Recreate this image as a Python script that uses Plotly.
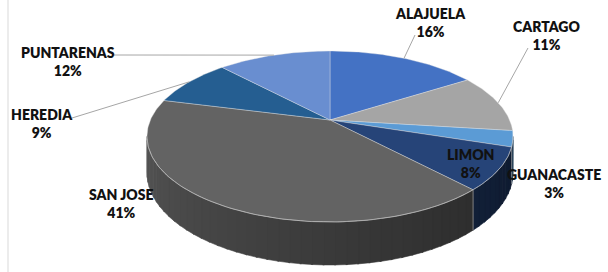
import numpy as np
import plotly.graph_objects as go

# ---------------- data ----------------
regions = ["ALAJUELA", "CARTAGO", "GUANACASTE", "LIMON", "SAN JOSE", "HEREDIA", "PUNTARENAS"]
shares = [16, 11, 3, 8, 41, 9, 12]

# ---------------- style / layout ----------------
colors = ["#4472C4", "#A5A5A5", "#5B9BD5", "#264478", "#636363", "#255E91", "#698ED0"]
label_xy = {"ALAJUELA": (430, 22), "CARTAGO": (546, 35), "GUANACASTE": (554, 183),
            "LIMON": (470, 163), "SAN JOSE": (121, 203), "HEREDIA": (42, 123),
            "PUNTARENAS": (68, 61)}
leader_from = {"ALAJUELA": (415, 35), "CARTAGO": (528, 48),
               "PUNTARENAS": (114, 55), "HEREDIA": (72, 118)}

W, H = 608, 272
CX, CY = 330, 120          # projected centre of the pie
A, B, K = 179.6, 82.3, 0.193  # ellipse radii and perspective factor
DEPTH = 34.7


def proj(theta_deg, drop=0.0):
    t = np.radians(theta_deg)
    u, v = np.sin(t), np.cos(t)
    w = 1 + K * v
    return CX + A * u / w, CY - B * v / w + drop / w


def shade(hexcol, f):
    h = hexcol.lstrip("#")
    r, g, b = (int(h[i:i + 2], 16) for i in (0, 2, 4))
    return "rgb(%d,%d,%d)" % (r * f, g * f, b * f)


total = float(sum(shares))
bounds = np.concatenate([[0], np.cumsum(shares)]) / total * 360.0

fig = go.Figure()

# visible front side: between silhouette angles
vis_lo = np.degrees(np.arccos(-K))
vis_hi = 360 - vis_lo

# ---- side faces ----
for i, name in enumerate(regions):
    a0, a1 = max(bounds[i], vis_lo), min(bounds[i + 1], vis_hi)
    if a1 <= a0:
        continue
    nseg = max(1, int(np.ceil((a1 - a0) / 3.0)))
    edges = np.linspace(a0, a1, nseg + 1)
    for s in range(nseg):
        s0, s1 = edges[s], edges[s + 1]
        th = np.linspace(s0, min(s1 + 0.4, a1), 6)
        xt, yt = proj(th)
        xb, yb = proj(th[::-1], DEPTH)
        mid = (s0 + s1) / 2
        tt = (mid - vis_lo) / (vis_hi - vis_lo)
        f = 0.40 + 0.47 * tt ** 1.3
        c = shade(colors[i], f)
        fig.add_trace(go.Scatter(x=np.concatenate([xt, xb, xt[:1]]),
                                 y=np.concatenate([yt, yb, yt[:1]]),
                                 mode="lines", fill="toself", fillcolor=c,
                                 line=dict(color=c, width=0.6),
                                 hoverinfo="skip", showlegend=False))

# slice boundary lines on side
for b in bounds[1:-1]:
    if vis_lo < b < vis_hi:
        x0, y0 = proj(b)
        x1, y1 = proj(b, DEPTH)
        fig.add_trace(go.Scatter(x=[x0, x1], y=[y0, y1], mode="lines",
                                 line=dict(color="rgba(190,190,190,0.7)", width=0.8),
                                 hoverinfo="skip", showlegend=False))

# ---- top faces ----
for i, name in enumerate(regions):
    th = np.linspace(bounds[i], bounds[i + 1], max(4, int(shares[i] * 4)))
    xs, ys = proj(th)
    fig.add_trace(go.Scatter(x=np.concatenate([[CX], xs, [CX]]),
                             y=np.concatenate([[CY], ys, [CY]]),
                             mode="lines", fill="toself", fillcolor=colors[i],
                             line=dict(color="rgba(230,230,230,0.55)", width=0.7),
                             name=name, hoverinfo="name", showlegend=False))

# rim highlight on front edge
th = np.linspace(vis_lo, vis_hi, 120)
xs, ys = proj(th)
fig.add_trace(go.Scatter(x=xs, y=ys, mode="lines",
                         line=dict(color="rgba(200,200,200,0.6)", width=0.8),
                         hoverinfo="skip", showlegend=False))

# ---- leader lines ----
for i, name in enumerate(regions):
    if name in leader_from:
        mid = (bounds[i] + bounds[i + 1]) / 2
        px, py = proj(mid)
        lx, ly = leader_from[name]
        if name == "PUNTARENAS":
            xs_, ys_ = [lx, px - 4, px], [ly, ly, py]
        else:
            xs_, ys_ = [lx, px], [ly, py]
        fig.add_trace(go.Scatter(x=xs_, y=ys_, mode="lines",
                                 line=dict(color="#a6a6a6", width=1),
                                 hoverinfo="skip", showlegend=False))

# ---- labels ----
for i, name in enumerate(regions):
    x, y = label_xy[name]
    fig.add_annotation(x=x, y=y, xref="x", yref="y", showarrow=False,
                       text="%s<br>%d%%" % (name, shares[i]),
                       font=dict(family="Lato, Carlito, Arial", size=14,
                                 color="#111111", weight=800),
                       align="center", xanchor="center", yanchor="middle")

# left chart-area border fragment
fig.add_shape(type="line", x0=8, x1=8, y0=0, y1=H, xref="x", yref="y",
              line=dict(color="#d9d9d9", width=1))

fig.update_layout(width=W, height=H, margin=dict(l=0, r=0, t=0, b=0),
                  paper_bgcolor="white", plot_bgcolor="white",
                  xaxis=dict(range=[0, W], visible=False, fixedrange=True),
                  yaxis=dict(range=[H, 0], visible=False, fixedrange=True),
                  showlegend=False)

fig.write_html("out.html", config={"displayModeBar": False},
               post_script="document.body.style.margin='0';"
                           "document.body.style.overflow='hidden';")
